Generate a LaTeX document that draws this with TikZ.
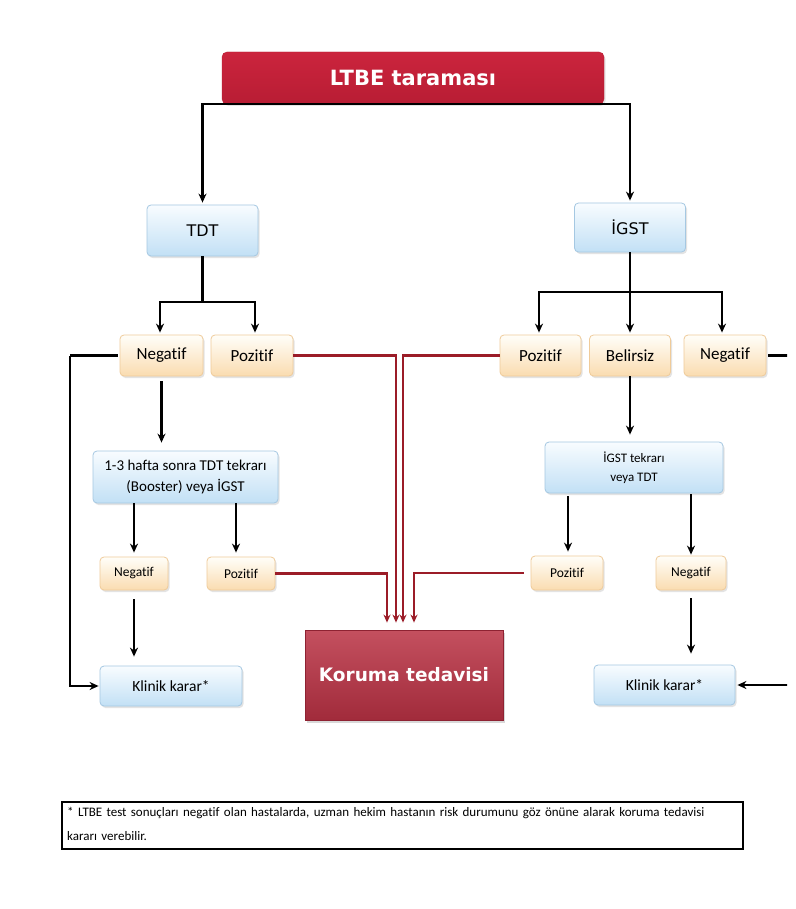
\documentclass[tikz,border=0pt]{standalone}
\usepackage{fontspec}
\setmainfont{Carlito}[Ligatures=NoCommon]
\newfontfamily\verd{DejaVu Sans}
\usetikzlibrary{arrows.meta,shadows,calc}
\definecolor{titlered}{HTML}{CB243D}
\definecolor{titlereddark}{HTML}{B81D34}
\definecolor{kortop}{HTML}{C4505F}
\definecolor{korbot}{HTML}{A12B3B}
\definecolor{korborder}{HTML}{8E2232}
\definecolor{bluetop}{HTML}{F8FCFF}
\definecolor{bluebot}{HTML}{C2E0F5}
\definecolor{blueborder}{HTML}{A5C8E2}
\definecolor{ortop}{HTML}{FFFEF9}
\definecolor{orbot}{HTML}{FADCB0}
\definecolor{orborder}{HTML}{EFCB9A}
\definecolor{redline}{HTML}{9B1C28}
\tikzset{
  basebox/.style={rounded corners=4pt, inner sep=0pt, align=center,
    drop shadow={opacity=0.22, shadow xshift=1.5pt, shadow yshift=-2pt}},
  bluebox/.style={basebox, draw=blueborder, line width=0.8pt, top color=bluetop, bottom color=bluebot},
  orbox/.style={basebox, draw=orborder, line width=0.8pt, top color=ortop, bottom color=orbot},
  ln/.style={line width=2.6pt, black},
  arr/.style={ln, -{Stealth[length=9pt,width=8pt]}},
  redarr/.style={line width=2.4pt, redline, -{Stealth[length=8pt,width=7pt]}, shorten >=7pt},
  bigtxt/.style={font=\fontsize{17}{20}\selectfont},
  smalltxt/.style={font=\fontsize{13.5}{16}\selectfont},
}
\begin{document}
\begin{tikzpicture}[x=1pt,y=-1pt]
\path[use as bounding box, fill=white] (0,0) rectangle (795,909);
\clip (0,0) rectangle (787,909);

% title
\node[rounded corners=5pt, top color=titlered, bottom color=titlereddark, draw=titlereddark,
  minimum width=382pt, minimum height=52pt, inner sep=0pt, text=white,
  font=\verd\bfseries\fontsize{21}{24}\selectfont,
  drop shadow={opacity=0.2, shadow xshift=1.5pt, shadow yshift=-2pt}] (title) at (413,78)
  {LTBE taraması};

% level 1
\node[bluebox, minimum width=111pt, minimum height=51pt, font=\verd\fontsize{16}{19}\selectfont] (tdt) at (202.5,230.5) {TDT};
\node[bluebox, minimum width=111pt, minimum height=49pt, font=\verd\fontsize{16}{19}\selectfont] (igst) at (630,227.5) {İGST};

% level 2
\node[orbox, bigtxt, minimum width=83pt, minimum height=41pt] (negL) at (161.5,355.5) {Negatif};
\node[orbox, bigtxt, minimum width=82pt, minimum height=41pt] (posL) at (252,355.5) {Pozitif};
\node[orbox, bigtxt, minimum width=81pt, minimum height=41pt] (posR) at (540.5,355.5) {Pozitif};
\node[orbox, bigtxt, minimum width=81pt, minimum height=41pt] (bel) at (630,355.5) {Belirsiz};
\node[orbox, bigtxt, minimum width=82pt, minimum height=41pt] (negR) at (725,355.5) {Negatif};

% level 3
\node[bluebox, minimum width=185pt, minimum height=52pt, font=\fontsize{15}{21}\selectfont] (repL) at (185.5,477)
  {1-3 hafta sonra TDT tekrarı\\(Booster) veya İGST};
\node[bluebox, minimum width=178pt, minimum height=51pt, font=\fontsize{13}{19}\selectfont] (repR) at (634,467.5)
  {İGST tekrarı\\veya TDT};

% level 4
\node[orbox, smalltxt, minimum width=68pt, minimum height=33pt] (snegL) at (134,573.5) {Negatif};
\node[orbox, smalltxt, minimum width=68pt, minimum height=33pt] (sposL) at (241,573.5) {Pozitif};
\node[orbox, smalltxt, minimum width=72pt, minimum height=34pt] (sposR) at (567,573) {Pozitif};
\node[orbox, smalltxt, minimum width=70pt, minimum height=34pt] (snegR) at (691,573) {Negatif};

% level 5
\node[bluebox, minimum width=142pt, minimum height=40pt, font=\fontsize{15.5}{18}\selectfont] (klinL) at (171,686) {Klinik karar*};
\node[bluebox, minimum width=141pt, minimum height=40pt, font=\fontsize{15.5}{18}\selectfont] (klinR) at (664.5,685) {Klinik karar*};
\node[inner sep=0pt, top color=kortop, bottom color=korbot, draw=korborder, line width=0.8pt,
  minimum width=198pt, minimum height=90pt, text=white,
  font=\verd\bfseries\fontsize{18.5}{22}\selectfont,
  drop shadow={opacity=0.3, shadow xshift=2pt, shadow yshift=-2.5pt}] (koruma) at (404,675)
  {Koruma tedavisi};

% footnote
\node[draw=black, line width=1.4pt, minimum width=681pt, minimum height=47pt, inner sep=0pt] (foot) at (402.5,825.5) {};
\node[anchor=north west, inner sep=0pt, text width=672pt, align=left,
  font=\fontsize{13}{24}\selectfont] (foottext) at (67,807)
  {* LTBE test sonuçları negatif olan hastalarda, uzman hekim hastanın risk durumunu göz önüne alarak koruma tedavisi\\kararı verebilir.};

% coordinates
\coordinate (tj) at (202.5,302);
\coordinate (ij) at (630,292);
\coordinate (lx) at (70,0);
\coordinate (rx) at (792,0);

% black connectors
\draw[arr, shorten >=2pt] (title.south) -| (tdt.north);
\draw[arr, shorten >=2pt] (title.south) -| (igst.north);
\draw[ln] (tdt.south) -- (tj);
\draw[arr, shorten >=2pt] (tj) -| ([xshift=-1.5pt]negL.north);
\draw[arr, shorten >=2pt] (tj) -| ([xshift=3pt]posL.north);
\draw[ln] (igst.south) -- (ij);
\draw[arr, shorten >=2pt] (ij) -| ([xshift=-1.5pt]posR.north);
\draw[arr, shorten >=2pt] (ij) -- (bel.north);
\draw[arr, shorten >=2pt] (ij) -| ([xshift=-3pt]negR.north);

\draw[ln, shorten <=2pt] (negL.west) -- (negL.west -| lx);
\draw[arr, shorten >=1pt] (negL.west -| lx) |- (klinL.west);
\draw[arr, shorten <=5pt, shorten >=8pt] (negL.south) -- (negL.south |- repL.north);
\draw[arr, shorten >=4pt] (snegL.north |- repL.south) -- (snegL.north);
\draw[arr, shorten >=4pt] ([xshift=-5pt]sposL.north |- repL.south) -- ([xshift=-5pt]sposL.north);
\draw[arr, shorten <=9pt, shorten >=9pt] (snegL.south) -- (snegL.south |- klinL.north);

\draw[arr, shorten >=7pt] (bel.south) -- (bel.south |- repR.north);
\draw[arr, shorten <=3pt, shorten >=4pt] ([xshift=1pt]sposR.north |- repR.south) -- ([xshift=1pt]sposR.north);
\draw[arr, shorten <=1pt, shorten >=1pt] (snegR.north |- repR.south) -- (snegR.north);
\draw[arr, shorten <=8pt, shorten >=11pt] (snegR.south) -- (snegR.south |- klinR.north);
\draw[ln, shorten <=2pt] (negR.east) -- (negR.east -| rx);
\draw[arr, shorten >=2pt] (negR.east -| rx) |- (klinR.east);

% red connectors to Koruma tedavisi
\draw[redarr] (sposL.east) -| ([xshift=-17pt]koruma.north);
\draw[redarr] (posL.east) -| ([xshift=-8pt]koruma.north);
\draw[redarr] (posR.west) -| ([xshift=-1pt]koruma.north);
\draw[redarr, shorten <=7pt] (sposR.west) -| ([xshift=10pt]koruma.north);
\end{tikzpicture}
\end{document}
